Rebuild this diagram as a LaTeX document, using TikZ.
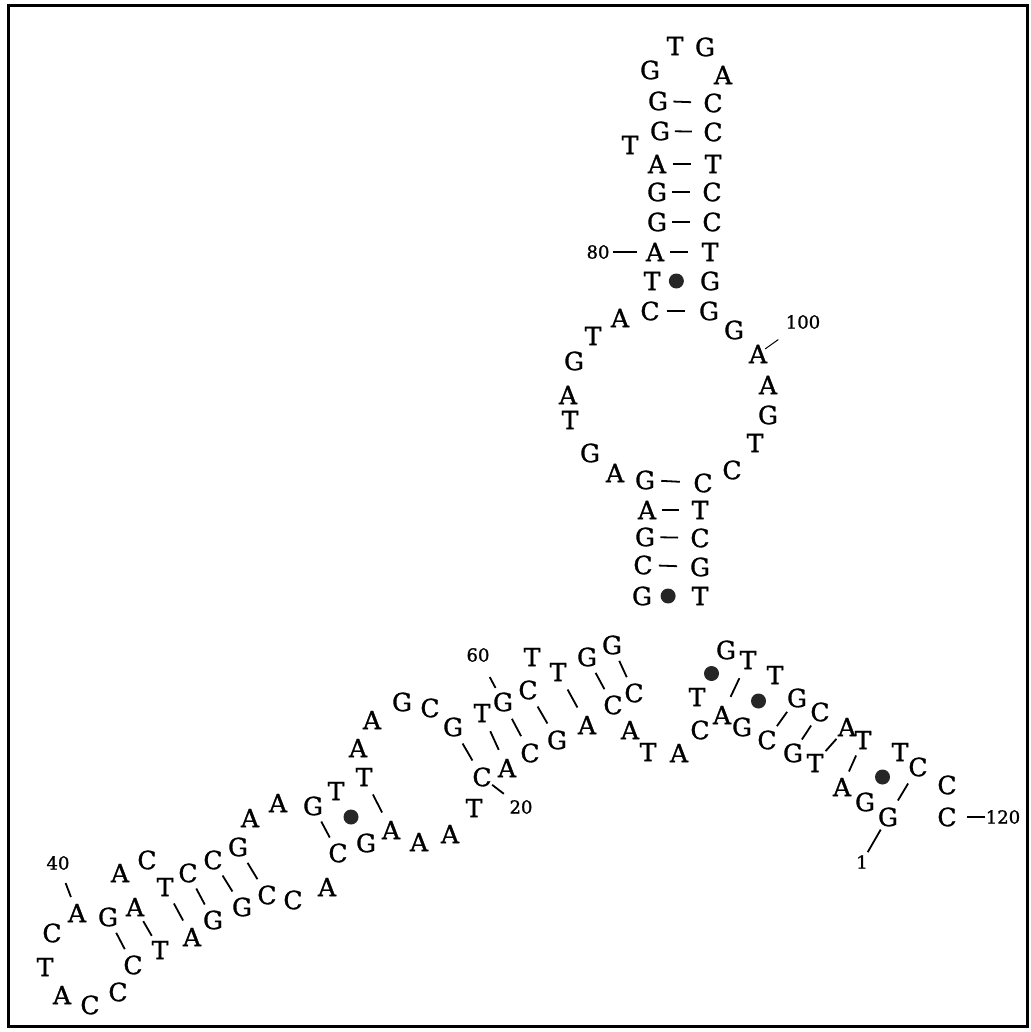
\documentclass[tikz,border=0pt]{standalone}
\usepackage{fontspec}
\setmainfont{DejaVu Serif}
\newfontfamily\ntfont{DejaVu Serif}[FakeBold=1.2]
\usetikzlibrary{calc}
\begin{document}
\begin{tikzpicture}[x=1pt,y=-1pt,
  nt/.style={inner sep=0pt, font=\ntfont\fontsize{25}{25}\selectfont},
  lbl/.style={inner sep=0pt, font=\ntfont\fontsize{18}{18}\selectfont},
  bp/.style={line width=1.8pt},
  wob/.style={circle, fill=black!85, inner sep=0pt, minimum size=15pt}]
\useasboundingbox (0,0) rectangle (1030,1032);
\draw[line width=3pt] (8,6) rectangle (1027,1026);
% nucleotides
\foreach \i/\b/\x/\y in {
 1/G/888/817, 2/G/865/802, 3/A/842/787, 4/T/815/763, 5/G/793/753,
 6/C/767/740, 7/G/742/727, 8/A/722/715, 9/T/697/697, 10/C/700/730,
 11/A/679/753, 12/T/648/752, 13/A/630/730, 14/C/634/693, 15/C/613/705,
 16/A/587/725, 17/G/557/740, 18/C/530/753, 19/A/507/768, 20/C/482/777,
 21/T/474/808, 22/A/450/834, 23/A/419/842, 24/A/391/830, 25/G/366/843,
 26/C/338/853, 27/A/327/887, 28/C/293/900, 29/C/267/895, 30/G/242/907,
 31/G/213/920, 32/A/192/937, 33/T/160/950, 34/C/133/965, 35/C/118/992,
 36/C/90/1005, 37/A/62/995, 38/T/45/967, 39/C/52/933, 40/A/77/913,
 41/G/108/917, 42/A/135/907, 43/A/120/873, 44/C/147/860, 45/T/165/887,
 46/C/188/873, 47/C/213/860, 48/G/238/847, 49/A/250/818, 50/A/278/803,
 51/G/313/806, 52/T/336/791, 53/T/364/777, 54/A/358/748, 55/A/372/720,
 56/G/402/702, 57/C/430/708, 58/G/453/727, 59/T/482/713, 60/G/503/702,
 61/C/528/690, 62/T/532/657, 63/T/558/672, 64/G/587/657, 65/G/612/645,
 66/G/642/596, 67/C/643/565, 68/G/645/537, 69/A/647/510, 70/G/645/480,
 71/A/615/473, 72/G/590/453, 73/T/570/420, 74/A/568/395, 75/G/574/361,
 76/T/593/336, 77/A/620/318, 78/C/650/311, 79/T/652/281, 80/A/655/252,
 81/G/657/222, 82/G/657/192, 83/A/657/164, 84/T/630/145, 85/G/660/131,
 86/G/658/101, 87/G/650/70, 88/T/675/46, 89/G/705/47, 90/A/723/75,
 91/C/713/103, 92/C/713/132, 93/T/713/164, 94/C/712/192, 95/C/712/222,
 96/T/710/252, 97/G/710/281, 98/G/709/311, 99/G/734/330, 100/A/758/354,
 101/A/768/385, 102/G/768/415, 103/T/755/443, 104/C/732/470, 105/C/703/483,
 106/T/700/510, 107/C/700/538, 108/G/700/567, 109/T/700/596, 110/G/726/650,
 111/T/748/660, 112/T/775/675, 113/G/797/698, 114/C/820/712, 115/A/847/727,
 116/T/863/740, 117/T/900/752, 118/C/918/767, 119/C/947/785, 120/C/947/817}
  \node[nt] (n\i) at (\x,\y) {\b};
% number labels
\node[lbl] (l1) at (862,862) {1};
\node[lbl] (l20) at (521,807) {20};
\node[lbl] (l40) at (58,863) {40};
\node[lbl] (l60) at (478,655) {60};
\node[lbl] (l80) at (598,252) {80};
\node[lbl] (l100) at (803,322) {100};
\node[lbl] (l120) at (1003,817) {120};
% label ticks
\draw[bp] ($(n1)!.28!(l1)$) -- ($(n1)!.78!(l1)$);
\draw[bp] ($(n20)!.26!(l20)$) -- ($(n20)!.56!(l20)$);
\draw[bp] ($(l40)!.40!(n40)$) -- ($(l40)!.68!(n40)$);
\draw[bp] ($(l60)!.47!(n60)$) -- ($(l60)!.70!(n60)$);
\draw[bp] ($(l80)!.26!(n80)$) -- ($(l80)!.68!(n80)$);
\draw[line width=1pt] ($(n100)!.16!(l100)$) -- ($(n100)!.45!(l100)$);
\draw[bp] ($(n120)!.36!(l120)$) -- ($(n120)!.68!(l120)$);
% horizontal base pairs
\foreach \a/\b in {86/91, 85/92, 83/93, 82/94, 81/95, 80/96, 78/98,
                   70/105, 69/106, 68/107, 67/108}
  \draw[bp] ($(n\a)!.28!(n\b)$) -- ($(n\a)!.6!(n\b)$);
% diagonal base pairs
\foreach \a/\b in {8/111, 6/113, 5/114, 4/115, 3/116, 1/118,
                   58/20, 59/19, 60/18, 61/17, 63/16, 64/15, 65/14,
                   51/26, 53/24,
                   48/29, 47/30, 46/31, 45/32, 42/33, 41/34}
  \draw[bp] ($(n\a)!.33!(n\b)$) -- ($(n\a)!.67!(n\b)$);
% wobble pairs
\node[wob] (d1) at ($(n79)!.42!(n97)$) {};
\node[wob] (d2) at ($(n66)!.45!(n109)$) {};
\node[wob] (d3) at ($(n9)!.5!(n110)$) {};
\node[wob] (d4) at ($(n7)!.5!(n112)$) {};
\node[wob] (d5) at ($(n2)!.5!(n117)$) {};
\node[wob] (d6) at ($(n52)!.5!(n25)$) {};
\end{tikzpicture}
\end{document}
